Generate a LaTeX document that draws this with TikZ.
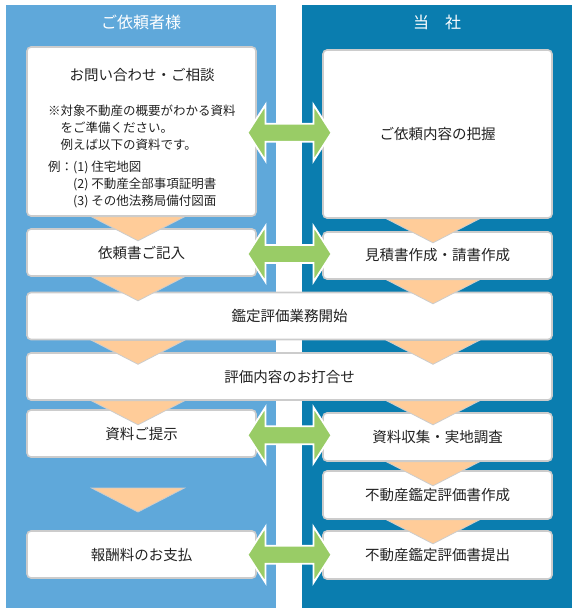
\documentclass[tikz,border=0pt]{standalone}
\usepackage{fontspec}
\setmainfont{Noto Sans CJK JP}
\usetikzlibrary{calc}
\definecolor{clientblue}{HTML}{5FA8DA}
\definecolor{firmblue}{HTML}{0A7DAF}
\definecolor{stepgreen}{HTML}{99CC66}
\definecolor{steporange}{HTML}{FFCC99}
\definecolor{boxgray}{HTML}{CCCCCC}
\definecolor{inktext}{HTML}{222222}
\tikzset{
  stepbox/.style={draw=boxgray,line width=1.6pt,fill=white,rounded corners=4pt,
    minimum width=229pt,minimum height=47pt,text=inktext,
    font=\fontsize{14.5}{17}\selectfont},
  widebox/.style={stepbox,minimum width=525pt},
  headtext/.style={text=white,font=\fontsize{16}{19}\selectfont},
  notetext/.style={text=inktext,align=left,inner sep=0pt,
    font=\fontsize{12.5}{17}\selectfont},
  flowtri/.pic={\draw[fill=steporange,draw=boxgray,line width=.8pt]
    (-46.5,0) -- (46.5,0) -- (0,24) -- cycle;},
  dblarrow/.pic={\draw[fill=stepgreen,draw=white,line width=1.8pt]
    (-42,0) -- (-24,-28) -- (-24,-9) -- (24,-9) -- (24,-28) -- (42,0)
    -- (24,28) -- (24,9) -- (-24,9) -- (-24,28) -- cycle;}
}
\begin{document}
\begin{tikzpicture}[x=1pt,y=-1pt]
  \useasboundingbox (0,0) rectangle (576,613);
  % two columns
  \fill[clientblue] (6,5) rectangle (276,608);
  \fill[firmblue] (302,5) rectangle (572,608);
  \node[headtext] (hdrL) at (141,22) {ご依頼者様};
  \node[headtext] (hdrR) at (437,22) {当　社};

  % client side
  \node[stepbox,minimum height=169pt] (a1) at (141.5,131.5) {};
  \node[text=inktext,font=\fontsize{14.5}{17}\selectfont] (a1title) at (142,75) {お問い合わせ・ご相談};
  \node[notetext,anchor=north west] (a1note) at (48,105) {%
    ※対象不動産の概要がわかる資料\\
    \hspace*{1em}をご準備ください。\\
    \hspace*{1em}例えば以下の資料です。\\[5pt]
    例：(1) 住宅地図\\
    \hspace*{2em}(2) 不動産全部事項証明書\\
    \hspace*{2em}(3) その他法務局備付図面};
  \node[stepbox] (a2) at (141.5,252.5) {依頼書ご記入};
  \node[stepbox] (a4) at (141.5,433.5) {資料ご提示};
  \node[stepbox] (a5) at (141.5,554.5) {報酬料のお支払};

  % firm side
  \node[stepbox,minimum height=168pt] (b1) at (437.5,134) {ご依頼内容の把握};
  \node[stepbox] (b2) at (437.5,255.5) {見積書作成・請書作成};
  \node[stepbox,minimum height=48pt] (b4) at (437.5,437) {資料収集・実地調査};
  \node[stepbox,minimum height=48pt] (b5) at (437.5,495) {不動産鑑定評価書作成};
  \node[stepbox,minimum height=48pt] (b6) at (437.5,555) {不動産鑑定評価書提出};

  % both sides
  \node[widebox] (w1) at (289.5,316) {鑑定評価業務開始};
  \node[widebox] (w2) at (289.5,376.5) {評価内容のお打合せ};

  % flow triangles
  \pic at (138,0 |- a1.south) {flowtri};
  \pic at (138,0 |- a2.south) {flowtri};
  \pic at (138,0 |- w1.south) {flowtri};
  \pic at (138,0 |- w2.south) {flowtri};
  \pic at (138,488) {flowtri};
  \pic at (433,0 |- b1.south) {flowtri};
  \pic at (433,0 |- b2.south) {flowtri};
  \pic at (433,0 |- w1.south) {flowtri};
  \pic at (433,0 |- w2.south) {flowtri};
  \pic at (433,0 |- b4.south) {flowtri};
  \pic at (433,0 |- b5.south) {flowtri};

  % exchange arrows
  \pic at ($(a1.east)!.5!(b1.west)$) {dblarrow};
  \pic at ($(a2.east)!.5!(b2.west)$) {dblarrow};
  \pic at ($(a4.east)!.5!(b4.west)$) {dblarrow};
  \pic at ($(a5.east)!.5!(b6.west)$) {dblarrow};
\end{tikzpicture}
\end{document}
